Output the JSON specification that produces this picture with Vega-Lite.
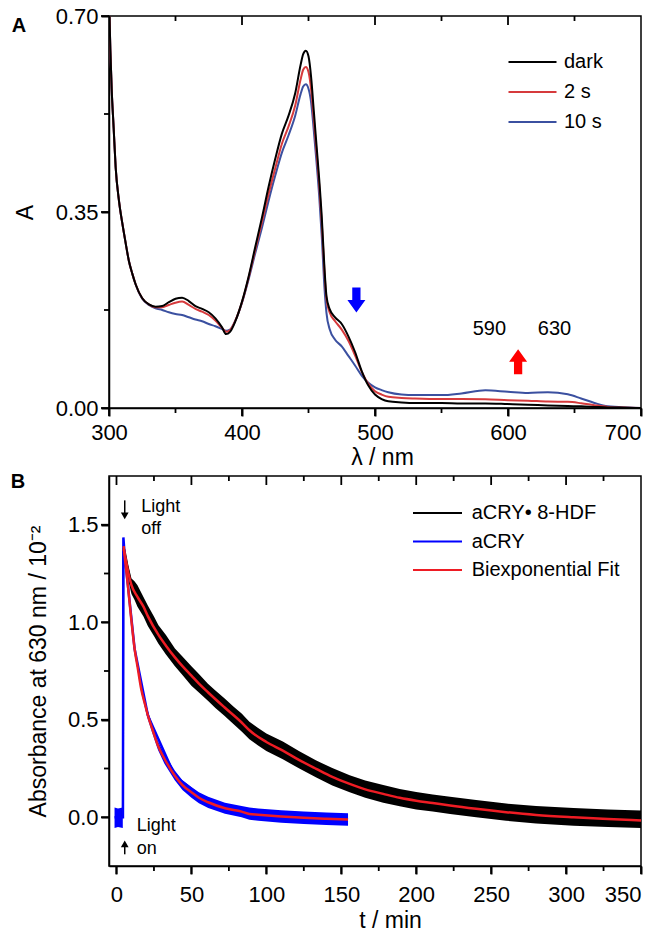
{
  "$schema": "https://vega.github.io/schema/vega-lite/v6.json",
  "padding": {"left": 10, "top": 4, "right": 0, "bottom": 0},
  "spacing": 1,
  "resolve": {"scale": {"color": "independent"}, "legend": {"color": "independent"}},
  "config": {
    "font": "Liberation Sans",
    "view": {"stroke": "black", "strokeWidth": 1.5},
    "axis": {"labelFont": "Liberation Sans", "titleFont": "Liberation Sans", "labelFontSize": 22, "titleFontSize": 23, "titleFontWeight": "normal", "labelColor": "black", "titleColor": "black", "tickColor": "#000000", "domainColor": "#000000", "domainWidth": 1.5, "tickWidth": 2, "grid": false, "labelOverlap": false},
    "legend": {"labelFont": "Liberation Sans", "labelColor": "black", "padding": 0},
    "rule": {"strokeWidth": 1.8, "color": "#000000"}
  },
  "vconcat": [
    {
      "width": 532,
      "height": 392,
      "resolve": {"axis": {"x": "independent", "y": "independent"}},
      "layer": [
        {
          "data": {"values": [
            {"wl": 300, "dark": 0.74, "2 s": 0.74, "10 s": 0.74},
            {"wl": 301, "dark": 0.64, "2 s": 0.64, "10 s": 0.64},
            {"wl": 302, "dark": 0.57, "2 s": 0.57, "10 s": 0.57},
            {"wl": 303.5, "dark": 0.5, "2 s": 0.5, "10 s": 0.5},
            {"wl": 305, "dark": 0.43, "2 s": 0.43, "10 s": 0.43},
            {"wl": 307.5, "dark": 0.37, "2 s": 0.37, "10 s": 0.37},
            {"wl": 310, "dark": 0.33, "2 s": 0.33, "10 s": 0.33},
            {"wl": 312.5, "dark": 0.295, "2 s": 0.295, "10 s": 0.295},
            {"wl": 315, "dark": 0.262, "2 s": 0.262, "10 s": 0.262},
            {"wl": 317.5, "dark": 0.24, "2 s": 0.24, "10 s": 0.24},
            {"wl": 320, "dark": 0.221, "2 s": 0.221, "10 s": 0.221},
            {"wl": 325, "dark": 0.196, "2 s": 0.196, "10 s": 0.195},
            {"wl": 330, "dark": 0.185, "2 s": 0.185, "10 s": 0.184},
            {"wl": 335, "dark": 0.181, "2 s": 0.18, "10 s": 0.178},
            {"wl": 340, "dark": 0.182, "2 s": 0.18, "10 s": 0.175},
            {"wl": 345, "dark": 0.189, "2 s": 0.184, "10 s": 0.171},
            {"wl": 350, "dark": 0.195, "2 s": 0.188, "10 s": 0.168},
            {"wl": 355, "dark": 0.197, "2 s": 0.19, "10 s": 0.166},
            {"wl": 360, "dark": 0.191, "2 s": 0.184, "10 s": 0.162},
            {"wl": 365, "dark": 0.182, "2 s": 0.177, "10 s": 0.158},
            {"wl": 370, "dark": 0.177, "2 s": 0.172, "10 s": 0.155},
            {"wl": 375, "dark": 0.171, "2 s": 0.166, "10 s": 0.15},
            {"wl": 380, "dark": 0.16, "2 s": 0.156, "10 s": 0.146},
            {"wl": 385, "dark": 0.144, "2 s": 0.143, "10 s": 0.141},
            {"wl": 388, "dark": 0.132, "2 s": 0.136, "10 s": 0.138},
            {"wl": 391, "dark": 0.136, "2 s": 0.139, "10 s": 0.14},
            {"wl": 395, "dark": 0.155, "2 s": 0.156, "10 s": 0.156},
            {"wl": 400, "dark": 0.19, "2 s": 0.189, "10 s": 0.188},
            {"wl": 405, "dark": 0.235, "2 s": 0.233, "10 s": 0.23},
            {"wl": 410, "dark": 0.288, "2 s": 0.283, "10 s": 0.277},
            {"wl": 415, "dark": 0.34, "2 s": 0.332, "10 s": 0.322},
            {"wl": 420, "dark": 0.395, "2 s": 0.382, "10 s": 0.37},
            {"wl": 425, "dark": 0.445, "2 s": 0.428, "10 s": 0.415},
            {"wl": 430, "dark": 0.49, "2 s": 0.472, "10 s": 0.456},
            {"wl": 435, "dark": 0.522, "2 s": 0.503, "10 s": 0.487},
            {"wl": 440, "dark": 0.562, "2 s": 0.54, "10 s": 0.522},
            {"wl": 444, "dark": 0.612, "2 s": 0.586, "10 s": 0.56},
            {"wl": 446, "dark": 0.632, "2 s": 0.604, "10 s": 0.574},
            {"wl": 448, "dark": 0.638, "2 s": 0.609, "10 s": 0.578},
            {"wl": 450, "dark": 0.628, "2 s": 0.6, "10 s": 0.57},
            {"wl": 452, "dark": 0.59, "2 s": 0.568, "10 s": 0.545},
            {"wl": 454, "dark": 0.53, "2 s": 0.515, "10 s": 0.495},
            {"wl": 456, "dark": 0.47, "2 s": 0.458, "10 s": 0.44},
            {"wl": 458, "dark": 0.41, "2 s": 0.4, "10 s": 0.38},
            {"wl": 460, "dark": 0.34, "2 s": 0.33, "10 s": 0.305},
            {"wl": 462, "dark": 0.25, "2 s": 0.243, "10 s": 0.215},
            {"wl": 463.5, "dark": 0.2, "2 s": 0.195, "10 s": 0.17},
            {"wl": 466, "dark": 0.176, "2 s": 0.17, "10 s": 0.14},
            {"wl": 470, "dark": 0.162, "2 s": 0.155, "10 s": 0.122},
            {"wl": 475, "dark": 0.15, "2 s": 0.14, "10 s": 0.11},
            {"wl": 480, "dark": 0.128, "2 s": 0.12, "10 s": 0.093},
            {"wl": 485, "dark": 0.1, "2 s": 0.094, "10 s": 0.076},
            {"wl": 490, "dark": 0.066, "2 s": 0.065, "10 s": 0.058},
            {"wl": 495, "dark": 0.04, "2 s": 0.043, "10 s": 0.045},
            {"wl": 500, "dark": 0.024, "2 s": 0.03, "10 s": 0.037},
            {"wl": 505, "dark": 0.016, "2 s": 0.024, "10 s": 0.032},
            {"wl": 510, "dark": 0.012, "2 s": 0.02, "10 s": 0.028},
            {"wl": 520, "dark": 0.01, "2 s": 0.018, "10 s": 0.024},
            {"wl": 530, "dark": 0.009, "2 s": 0.017, "10 s": 0.023},
            {"wl": 550, "dark": 0.009, "2 s": 0.016, "10 s": 0.023},
            {"wl": 565, "dark": 0.008, "2 s": 0.016, "10 s": 0.026},
            {"wl": 583, "dark": 0.008, "2 s": 0.0155, "10 s": 0.0315},
            {"wl": 600, "dark": 0.007, "2 s": 0.014, "10 s": 0.029},
            {"wl": 615, "dark": 0.006, "2 s": 0.013, "10 s": 0.027},
            {"wl": 630, "dark": 0.0045, "2 s": 0.0115, "10 s": 0.028},
            {"wl": 645, "dark": 0.0035, "2 s": 0.011, "10 s": 0.0245},
            {"wl": 655, "dark": 0.003, "2 s": 0.0085, "10 s": 0.017},
            {"wl": 665, "dark": 0.002, "2 s": 0.005, "10 s": 0.009},
            {"wl": 675, "dark": 0.001, "2 s": 0.002, "10 s": 0.003},
            {"wl": 690, "dark": 0.0005, "2 s": 0.0005, "10 s": 0.0008},
            {"wl": 700, "dark": 0, "2 s": 0, "10 s": 0}
          ]},
          "transform": [{"fold": ["10 s", "2 s", "dark"], "as": ["s", "A"]}],
          "mark": {"type": "line", "strokeWidth": 2, "clip": true, "interpolate": "monotone"},
          "encoding": {
            "x": {"field": "wl", "type": "quantitative", "scale": {"domain": [300, 700], "nice": false, "zero": false},
              "axis": {"orient": "bottom", "values": [300, 400, 500, 600, 700], "format": "d", "tickSize": 8,
                "labelAlign": {"condition": {"test": "datum.value === 700", "value": "right"}, "value": "center"},
                "labelPadding": 6, "title": "λ / nm", "titleX": 273, "titleY": 49, "titleBaseline": "middle", "titleAlign": "center"}},
            "y": {"field": "A", "type": "quantitative", "scale": {"domain": [0, 0.7], "nice": false},
              "axis": {"values": [0, 0.35, 0.7], "format": ".2f", "tickSize": 8,
                "labelPadding": 3, "title": "A", "titleAngle": -90, "titleX": -84, "titleY": 196, "titleAlign": "center", "titleBaseline": "middle"}},
            "color": {"field": "s", "type": "nominal", "scale": {"domain": ["dark", "2 s", "10 s"], "range": ["#000000", "#d63a3c", "#3b50a0"]},
              "legend": {"orient": "none", "legendX": 407.5, "legendY": 30, "title": null, "symbolType": "M -1.6 0 L 1.6 0", "symbolSize": 900, "symbolStrokeWidth": 2, "labelFontSize": 20, "labelOffset": 15.5, "rowPadding": 4}}
          }
        },
        {
          "data": {"values": [{"v": 300}, {"v": 400}, {"v": 500}, {"v": 600}, {"v": 700}]},
          "mark": {"type": "rule"},
          "encoding": {"x": {"field": "v", "type": "quantitative", "axis": null}, "y": {"datum": 0, "type": "quantitative", "axis": null}, "y2": {"datum": -0.0143}}
        },
        {
          "data": {"values": [{"v": 350}, {"v": 450}, {"v": 550}, {"v": 650}]},
          "mark": {"type": "rule"},
          "encoding": {"x": {"field": "v", "type": "quantitative", "axis": null}, "y": {"datum": 0, "type": "quantitative", "axis": null}, "y2": {"datum": -0.0089}}
        },
        {
          "data": {"values": [{"v": 400}, {"v": 500}, {"v": 600}]},
          "mark": {"type": "rule"},
          "encoding": {"x": {"field": "v", "type": "quantitative", "axis": null}, "y": {"datum": 0.7, "type": "quantitative", "axis": null}, "y2": {"datum": 0.684}}
        },
        {
          "data": {"values": [{"v": 350}, {"v": 450}, {"v": 550}, {"v": 650}]},
          "mark": {"type": "rule"},
          "encoding": {"x": {"field": "v", "type": "quantitative", "axis": null}, "y": {"datum": 0.7, "type": "quantitative", "axis": null}, "y2": {"datum": 0.6911}}
        },
        {
          "data": {"values": [{"v": 0}, {"v": 0.35}, {"v": 0.7}]},
          "mark": {"type": "rule"},
          "encoding": {"y": {"field": "v", "type": "quantitative", "axis": null}, "x": {"datum": 300, "type": "quantitative", "axis": null}, "x2": {"datum": 294}}
        },
        {
          "data": {"values": [{"v": 0.175}, {"v": 0.525}]},
          "mark": {"type": "rule"},
          "encoding": {"y": {"field": "v", "type": "quantitative", "axis": null}, "x": {"datum": 300, "type": "quantitative", "axis": null}, "x2": {"datum": 296.24}}
        },
        {
          "data": {"values": [{"x": 486, "y": 0.193}]},
          "mark": {"type": "point", "filled": true, "opacity": 1, "color": "#0000ff", "size": 625, "shape": "M -0.33 -1 L 0.33 -1 L 0.33 0 L 0.72 0 L 0 1 L -0.72 0 L -0.33 0 Z"},
          "encoding": {
            "x": {"field": "x", "type": "quantitative", "axis": null},
            "y": {"field": "y", "type": "quantitative", "axis": null}
          }
        },
        {
          "data": {"values": [{"x": 607.6, "y": 0.0825}]},
          "mark": {"type": "point", "filled": true, "opacity": 1, "color": "#ff0000", "size": 625, "shape": "M -0.33 1 L 0.33 1 L 0.33 0 L 0.72 0 L 0 -1 L -0.72 0 L -0.33 0 Z"},
          "encoding": {
            "x": {"field": "x", "type": "quantitative", "axis": null},
            "y": {"field": "y", "type": "quantitative", "axis": null}
          }
        },
        {
          "data": {"values": [{"x": 586, "y": 0.141, "t": "590"}, {"x": 635, "y": 0.141, "t": "630"}]},
          "mark": {"type": "text", "fontSize": 20, "font": "Liberation Sans", "align": "center", "baseline": "middle", "color": "black"},
          "encoding": {
            "x": {"field": "x", "type": "quantitative", "axis": null},
            "y": {"field": "y", "type": "quantitative", "axis": null},
            "text": {"field": "t"}
          }
        },
        {
          "data": {"values": [{"x": 300, "y": 0.7, "t": "A"}]},
          "mark": {"type": "text", "fontSize": 20, "fontWeight": "bold", "font": "Liberation Sans", "align": "center", "baseline": "middle", "dx": -90, "dy": 10, "color": "black"},
          "encoding": {
            "x": {"field": "x", "type": "quantitative", "axis": null},
            "y": {"field": "y", "type": "quantitative", "axis": null},
            "text": {"field": "t"}
          }
        }
      ]
    },
    {
      "width": 532,
      "height": 390,
      "resolve": {"axis": {"x": "independent", "y": "independent"}},
      "layer": [
        {
          "data": {"values": [
            {"t": 4.5, "lo": 1.35, "hi": 1.4},
            {"t": 6, "lo": 1.3, "hi": 1.37},
            {"t": 8, "lo": 1.21, "hi": 1.29},
            {"t": 10, "lo": 1.145, "hi": 1.225},
            {"t": 12, "lo": 1.115, "hi": 1.21},
            {"t": 14, "lo": 1.08, "hi": 1.19},
            {"t": 18, "lo": 1.03, "hi": 1.13},
            {"t": 21, "lo": 0.98, "hi": 1.085},
            {"t": 25, "lo": 0.93, "hi": 1.03},
            {"t": 28, "lo": 0.89, "hi": 0.985},
            {"t": 33, "lo": 0.835, "hi": 0.935},
            {"t": 39, "lo": 0.775, "hi": 0.865},
            {"t": 44, "lo": 0.73, "hi": 0.825},
            {"t": 50, "lo": 0.675, "hi": 0.775},
            {"t": 55, "lo": 0.64, "hi": 0.735},
            {"t": 61, "lo": 0.598, "hi": 0.685},
            {"t": 66, "lo": 0.56, "hi": 0.65},
            {"t": 72, "lo": 0.52, "hi": 0.61},
            {"t": 78, "lo": 0.478, "hi": 0.568},
            {"t": 83.5, "lo": 0.44, "hi": 0.532},
            {"t": 88.7, "lo": 0.4, "hi": 0.49},
            {"t": 94, "lo": 0.37, "hi": 0.46},
            {"t": 100, "lo": 0.34, "hi": 0.43},
            {"t": 111, "lo": 0.297, "hi": 0.388},
            {"t": 122, "lo": 0.25, "hi": 0.338},
            {"t": 133, "lo": 0.205, "hi": 0.292},
            {"t": 144, "lo": 0.163, "hi": 0.252},
            {"t": 155.6, "lo": 0.128, "hi": 0.216},
            {"t": 166, "lo": 0.1, "hi": 0.188},
            {"t": 178, "lo": 0.075, "hi": 0.165},
            {"t": 189, "lo": 0.056, "hi": 0.145},
            {"t": 200, "lo": 0.04, "hi": 0.13},
            {"t": 211, "lo": 0.03, "hi": 0.117},
            {"t": 222.6, "lo": 0.017, "hi": 0.105},
            {"t": 240, "lo": 0.0, "hi": 0.088},
            {"t": 260, "lo": -0.018, "hi": 0.07},
            {"t": 280, "lo": -0.032, "hi": 0.058},
            {"t": 305, "lo": -0.043, "hi": 0.047},
            {"t": 328, "lo": -0.05, "hi": 0.04},
            {"t": 350, "lo": -0.055, "hi": 0.035}
          ]},
          "mark": {"type": "area", "color": "#000000", "opacity": 1},
          "encoding": {
            "x": {"field": "t", "type": "quantitative", "scale": {"domain": [-5, 350], "nice": false, "zero": false},
              "axis": {"orient": "bottom", "values": [0, 50, 100, 150, 200, 250, 300, 350], "format": "d", "tickSize": 8,
                "labelAlign": {"condition": {"test": "datum.value === 350", "value": "right"}, "value": "center"},
                "labelPadding": 10, "title": "t / min", "titleX": 281, "titleY": 54, "titleBaseline": "middle", "titleAlign": "center"}},
            "y": {"field": "lo", "type": "quantitative", "scale": {"domain": [-0.25, 1.75], "nice": false, "zero": false},
              "axis": {"values": [0, 0.5, 1, 1.5], "format": ".1f", "tickSize": 8,
                "labelPadding": 3, "title": "Absorbance at 630 nm / 10⁻²", "titleAngle": -90, "titleX": -71, "titleY": 195, "titleAlign": "center", "titleBaseline": "middle"}},
            "y2": {"field": "hi"}
          }
        },
        {
          "data": {"values": [
            {"t": -1.3, "lo": -0.055, "hi": 0.05, "seg": "pre"},
            {"t": 1, "lo": -0.05, "hi": 0.045, "seg": "pre"},
            {"t": 4.2, "lo": -0.055, "hi": 0.05, "seg": "pre"},
            {"t": 4.8, "lo": 1.37, "hi": 1.43, "seg": "post"},
            {"t": 6, "lo": 1.28, "hi": 1.33, "seg": "post"},
            {"t": 7.6, "lo": 1.17, "hi": 1.21, "seg": "post"},
            {"t": 9.8, "lo": 1.0, "hi": 1.04, "seg": "post"},
            {"t": 12.1, "lo": 0.845, "hi": 0.88, "seg": "post"},
            {"t": 14.3, "lo": 0.74, "hi": 0.78, "seg": "post"},
            {"t": 16.5, "lo": 0.64, "hi": 0.68, "seg": "post"},
            {"t": 19, "lo": 0.56, "hi": 0.6, "seg": "post"},
            {"t": 21, "lo": 0.5, "hi": 0.545, "seg": "post"},
            {"t": 24, "lo": 0.43, "hi": 0.475, "seg": "post"},
            {"t": 27.7, "lo": 0.345, "hi": 0.39, "seg": "post"},
            {"t": 32, "lo": 0.275, "hi": 0.325, "seg": "post"},
            {"t": 38.9, "lo": 0.19, "hi": 0.24, "seg": "post"},
            {"t": 44, "lo": 0.14, "hi": 0.19, "seg": "post"},
            {"t": 50, "lo": 0.1, "hi": 0.155, "seg": "post"},
            {"t": 55, "lo": 0.072, "hi": 0.128, "seg": "post"},
            {"t": 61.2, "lo": 0.048, "hi": 0.105, "seg": "post"},
            {"t": 72.4, "lo": 0.018, "hi": 0.075, "seg": "post"},
            {"t": 83.5, "lo": 0.0, "hi": 0.058, "seg": "post"},
            {"t": 88.7, "lo": -0.013, "hi": 0.05, "seg": "post"},
            {"t": 94.6, "lo": -0.018, "hi": 0.045, "seg": "post"},
            {"t": 110, "lo": -0.028, "hi": 0.036, "seg": "post"},
            {"t": 125, "lo": -0.035, "hi": 0.03, "seg": "post"},
            {"t": 140, "lo": -0.04, "hi": 0.025, "seg": "post"},
            {"t": 154.5, "lo": -0.043, "hi": 0.02, "seg": "post"}
          ]},
          "mark": {"type": "area", "color": "#0000ff", "opacity": 1},
          "encoding": {
            "x": {"field": "t", "type": "quantitative", "axis": null},
            "y": {"field": "lo", "type": "quantitative", "axis": null},
            "y2": {"field": "hi"},
            "detail": {"field": "seg"}
          }
        },
        {
          "data": {"values": [
            {"t": 4.3, "v": 0.0, "s": "aCRY• 8-HDF"},
            {"t": 4.5, "v": 1.378, "s": "aCRY• 8-HDF"},
            {"t": 10, "v": 1.19, "s": "aCRY• 8-HDF"},
            {"t": 21, "v": 1.03, "s": "aCRY• 8-HDF"},
            {"t": 50, "v": 0.726, "s": "aCRY• 8-HDF"},
            {"t": 100, "v": 0.385, "s": "aCRY• 8-HDF"},
            {"t": 155.6, "v": 0.171, "s": "aCRY• 8-HDF"},
            {"t": 222.6, "v": 0.06, "s": "aCRY• 8-HDF"},
            {"t": 305, "v": 0.0, "s": "aCRY• 8-HDF"},
            {"t": 350, "v": -0.017, "s": "aCRY• 8-HDF"}
          ]},
          "mark": {"type": "line", "strokeWidth": 2},
          "encoding": {
            "x": {"field": "t", "type": "quantitative", "axis": null},
            "y": {"field": "v", "type": "quantitative", "axis": null},
            "color": {"field": "s", "type": "nominal", "scale": {"domain": ["aCRY• 8-HDF", "aCRY", "Biexponential Fit"], "range": ["#000000", "#0000ff", "#ee1c24"]},
              "legend": {"orient": "none", "legendX": 314, "legendY": 22.5, "title": null, "symbolType": "M -1.815 0 L 1.815 0", "symbolSize": 729, "symbolStrokeWidth": 2, "labelFontSize": 20, "labelOffset": 19.7, "rowPadding": 3.5}}
          }
        },
        {
          "data": {"values": [
            {"t": -1.3, "v": 0.0, "s": "aCRY"},
            {"t": 4.3, "v": 0.0, "s": "aCRY"},
            {"t": 4.6, "v": 1.435, "s": "aCRY"},
            {"t": 5.3, "v": 1.36, "s": "aCRY"},
            {"t": 7.6, "v": 1.19, "s": "aCRY"},
            {"t": 12.1, "v": 0.863, "s": "aCRY"},
            {"t": 21, "v": 0.521, "s": "aCRY"},
            {"t": 38.9, "v": 0.213, "s": "aCRY"},
            {"t": 61.2, "v": 0.077, "s": "aCRY"},
            {"t": 94.6, "v": 0.013, "s": "aCRY"},
            {"t": 154.5, "v": -0.012, "s": "aCRY"}
          ]},
          "mark": {"type": "line", "strokeWidth": 2.5},
          "encoding": {
            "x": {"field": "t", "type": "quantitative", "axis": null},
            "y": {"field": "v", "type": "quantitative", "axis": null},
            "color": {"field": "s", "type": "nominal"}
          }
        },
        {
          "data": {"values": [
            {"t": 4.8, "v": 1.375, "id": "f1", "s": "Biexponential Fit"},
            {"t": 6.5, "v": 1.31, "id": "f1", "s": "Biexponential Fit"},
            {"t": 8, "v": 1.25, "id": "f1", "s": "Biexponential Fit"},
            {"t": 10, "v": 1.19, "id": "f1", "s": "Biexponential Fit"},
            {"t": 14, "v": 1.13, "id": "f1", "s": "Biexponential Fit"},
            {"t": 18, "v": 1.08, "id": "f1", "s": "Biexponential Fit"},
            {"t": 21, "v": 1.03, "id": "f1", "s": "Biexponential Fit"},
            {"t": 28, "v": 0.935, "id": "f1", "s": "Biexponential Fit"},
            {"t": 33, "v": 0.88, "id": "f1", "s": "Biexponential Fit"},
            {"t": 39, "v": 0.82, "id": "f1", "s": "Biexponential Fit"},
            {"t": 44, "v": 0.775, "id": "f1", "s": "Biexponential Fit"},
            {"t": 50, "v": 0.726, "id": "f1", "s": "Biexponential Fit"},
            {"t": 55, "v": 0.685, "id": "f1", "s": "Biexponential Fit"},
            {"t": 61, "v": 0.641, "id": "f1", "s": "Biexponential Fit"},
            {"t": 72, "v": 0.564, "id": "f1", "s": "Biexponential Fit"},
            {"t": 83.5, "v": 0.486, "id": "f1", "s": "Biexponential Fit"},
            {"t": 88.7, "v": 0.446, "id": "f1", "s": "Biexponential Fit"},
            {"t": 100, "v": 0.386, "id": "f1", "s": "Biexponential Fit"},
            {"t": 111, "v": 0.342, "id": "f1", "s": "Biexponential Fit"},
            {"t": 122, "v": 0.293, "id": "f1", "s": "Biexponential Fit"},
            {"t": 133.3, "v": 0.248, "id": "f1", "s": "Biexponential Fit"},
            {"t": 144, "v": 0.207, "id": "f1", "s": "Biexponential Fit"},
            {"t": 155.6, "v": 0.171, "id": "f1", "s": "Biexponential Fit"},
            {"t": 166, "v": 0.143, "id": "f1", "s": "Biexponential Fit"},
            {"t": 178, "v": 0.12, "id": "f1", "s": "Biexponential Fit"},
            {"t": 189, "v": 0.1, "id": "f1", "s": "Biexponential Fit"},
            {"t": 200, "v": 0.085, "id": "f1", "s": "Biexponential Fit"},
            {"t": 211, "v": 0.073, "id": "f1", "s": "Biexponential Fit"},
            {"t": 222.6, "v": 0.06, "id": "f1", "s": "Biexponential Fit"},
            {"t": 240, "v": 0.043, "id": "f1", "s": "Biexponential Fit"},
            {"t": 260, "v": 0.026, "id": "f1", "s": "Biexponential Fit"},
            {"t": 280, "v": 0.012, "id": "f1", "s": "Biexponential Fit"},
            {"t": 305, "v": 0.0, "id": "f1", "s": "Biexponential Fit"},
            {"t": 328, "v": -0.009, "id": "f1", "s": "Biexponential Fit"},
            {"t": 350, "v": -0.017, "id": "f1", "s": "Biexponential Fit"},
            {"t": 4.8, "v": 1.39, "id": "f2", "s": "Biexponential Fit"},
            {"t": 6, "v": 1.3, "id": "f2", "s": "Biexponential Fit"},
            {"t": 7.6, "v": 1.19, "id": "f2", "s": "Biexponential Fit"},
            {"t": 9.8, "v": 1.02, "id": "f2", "s": "Biexponential Fit"},
            {"t": 12.1, "v": 0.863, "id": "f2", "s": "Biexponential Fit"},
            {"t": 14.3, "v": 0.76, "id": "f2", "s": "Biexponential Fit"},
            {"t": 16.5, "v": 0.658, "id": "f2", "s": "Biexponential Fit"},
            {"t": 19, "v": 0.58, "id": "f2", "s": "Biexponential Fit"},
            {"t": 21, "v": 0.521, "id": "f2", "s": "Biexponential Fit"},
            {"t": 24, "v": 0.45, "id": "f2", "s": "Biexponential Fit"},
            {"t": 27.7, "v": 0.367, "id": "f2", "s": "Biexponential Fit"},
            {"t": 32, "v": 0.3, "id": "f2", "s": "Biexponential Fit"},
            {"t": 38.9, "v": 0.213, "id": "f2", "s": "Biexponential Fit"},
            {"t": 44, "v": 0.165, "id": "f2", "s": "Biexponential Fit"},
            {"t": 50, "v": 0.128, "id": "f2", "s": "Biexponential Fit"},
            {"t": 55, "v": 0.1, "id": "f2", "s": "Biexponential Fit"},
            {"t": 61.2, "v": 0.077, "id": "f2", "s": "Biexponential Fit"},
            {"t": 72.4, "v": 0.046, "id": "f2", "s": "Biexponential Fit"},
            {"t": 83.5, "v": 0.029, "id": "f2", "s": "Biexponential Fit"},
            {"t": 88.7, "v": 0.017, "id": "f2", "s": "Biexponential Fit"},
            {"t": 94.6, "v": 0.013, "id": "f2", "s": "Biexponential Fit"},
            {"t": 110, "v": 0.004, "id": "f2", "s": "Biexponential Fit"},
            {"t": 125, "v": -0.003, "id": "f2", "s": "Biexponential Fit"},
            {"t": 140, "v": -0.008, "id": "f2", "s": "Biexponential Fit"},
            {"t": 154.5, "v": -0.012, "id": "f2", "s": "Biexponential Fit"}
          ]},
          "mark": {"type": "line", "strokeWidth": 2.5, "interpolate": "monotone"},
          "encoding": {
            "x": {"field": "t", "type": "quantitative", "axis": null},
            "y": {"field": "v", "type": "quantitative", "axis": null},
            "color": {"field": "s", "type": "nominal"},
            "detail": {"field": "id"}
          }
        },
        {
          "data": {"values": [{"v": 0}, {"v": 50}, {"v": 100}, {"v": 150}, {"v": 200}, {"v": 250}, {"v": 300}, {"v": 350}]},
          "mark": {"type": "rule"},
          "encoding": {"x": {"field": "v", "type": "quantitative", "axis": null}, "y": {"datum": -0.25, "type": "quantitative", "axis": null}, "y2": {"datum": -0.291}}
        },
        {
          "data": {"values": [{"v": 25}, {"v": 75}, {"v": 125}, {"v": 175}, {"v": 225}, {"v": 275}, {"v": 325}]},
          "mark": {"type": "rule"},
          "encoding": {"x": {"field": "v", "type": "quantitative", "axis": null}, "y": {"datum": -0.25, "type": "quantitative", "axis": null}, "y2": {"datum": -0.2756}}
        },
        {
          "data": {"values": [{"v": 0}, {"v": 50}, {"v": 100}, {"v": 150}, {"v": 200}, {"v": 250}, {"v": 300}]},
          "mark": {"type": "rule"},
          "encoding": {"x": {"field": "v", "type": "quantitative", "axis": null}, "y": {"datum": 1.75, "type": "quantitative", "axis": null}, "y2": {"datum": 1.7038}}
        },
        {
          "data": {"values": [{"v": 25}, {"v": 75}, {"v": 125}, {"v": 175}, {"v": 225}, {"v": 275}, {"v": 325}]},
          "mark": {"type": "rule"},
          "encoding": {"x": {"field": "v", "type": "quantitative", "axis": null}, "y": {"datum": 1.75, "type": "quantitative", "axis": null}, "y2": {"datum": 1.7244}}
        },
        {
          "data": {"values": [{"v": 0}, {"v": 0.5}, {"v": 1}, {"v": 1.5}]},
          "mark": {"type": "rule"},
          "encoding": {"y": {"field": "v", "type": "quantitative", "axis": null}, "x": {"datum": -5, "type": "quantitative", "axis": null}, "x2": {"datum": -10.34}}
        },
        {
          "data": {"values": [{"v": 0.25}, {"v": 0.75}, {"v": 1.25}]},
          "mark": {"type": "rule"},
          "encoding": {"y": {"field": "v", "type": "quantitative", "axis": null}, "x": {"datum": -5, "type": "quantitative", "axis": null}, "x2": {"datum": -8.34}}
        },
        {
          "data": {"values": [
            {"t": 5.5, "y": 1.625, "y2": 1.545},
            {"t": 5.5, "y": -0.137, "y2": -0.19}
          ]},
          "mark": {"type": "rule", "color": "black", "strokeWidth": 1.5},
          "encoding": {
            "x": {"field": "t", "type": "quantitative", "axis": null},
            "y": {"field": "y", "type": "quantitative", "axis": null},
            "y2": {"field": "y2"}
          }
        },
        {
          "data": {"values": [
            {"t": 5.5, "y": 1.545, "dir": "down"},
            {"t": 5.5, "y": -0.137, "dir": "up"}
          ]},
          "mark": {"type": "point", "filled": true, "opacity": 1, "color": "black", "size": 60},
          "encoding": {
            "x": {"field": "t", "type": "quantitative", "axis": null},
            "y": {"field": "y", "type": "quantitative", "axis": null},
            "shape": {"field": "dir", "type": "nominal", "scale": {"domain": ["down", "up"], "range": ["triangle-down", "triangle-up"]}, "legend": null}
          }
        },
        {
          "data": {"values": [
            {"t": 16.5, "y": 1.59, "txt": "Light"},
            {"t": 16.5, "y": 1.48, "txt": "off"},
            {"t": 13.5, "y": -0.043, "txt": "Light"},
            {"t": 13.5, "y": -0.162, "txt": "on"}
          ]},
          "mark": {"type": "text", "fontSize": 18, "font": "Liberation Sans", "align": "left", "baseline": "middle", "color": "black"},
          "encoding": {
            "x": {"field": "t", "type": "quantitative", "axis": null},
            "y": {"field": "y", "type": "quantitative", "axis": null},
            "text": {"field": "txt"}
          }
        },
        {
          "data": {"values": [{"t": -5, "y": 1.75, "txt": "B"}]},
          "mark": {"type": "text", "fontSize": 20, "fontWeight": "bold", "font": "Liberation Sans", "align": "center", "baseline": "middle", "dx": -91, "dy": 6, "color": "black"},
          "encoding": {
            "x": {"field": "t", "type": "quantitative", "axis": null},
            "y": {"field": "y", "type": "quantitative", "axis": null},
            "text": {"field": "txt"}
          }
        }
      ]
    }
  ]
}
